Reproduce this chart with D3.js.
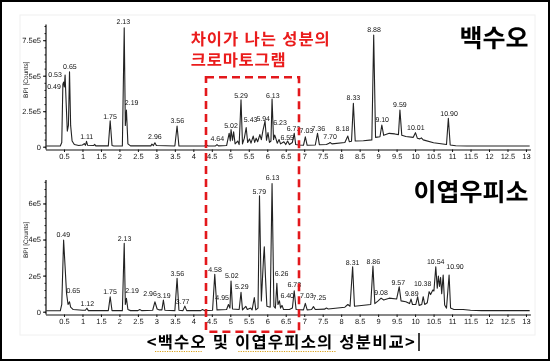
<!DOCTYPE html>
<html lang="ko">
<head>
<meta charset="UTF-8">
<title>백수오 및 이엽우피소의 성분비교</title>
<script src="https://d3js.org/d3.v7.min.js"></script>
<style>
  body { margin: 0; background: #fff; }
  svg { display: block; }
  text { text-rendering: geometricPrecision; }
  .tick text { font-family: "Liberation Sans Narrow", "Liberation Sans", sans-serif; font-size: 7.5px; fill: #111; }
  .tick line { stroke: #111; }
  .pk { font-family: "Liberation Sans Narrow", "Liberation Sans", sans-serif; font-size: 7px; fill: #111; text-anchor: middle; }
</style>
</head>
<body>
<script>
// retention time axis (min)
var xTicks = [0.5,1,1.5,2,2.5,3,3.5,4,4.5,5,5.5,6,6.5,7,7.5,8,8.5,9,9.5,10,10.5,11,11.5,12,12.5,13];
var xTickLabels = ["0.5","1","1.5","2","2.5","3","3.5","4","4.5","5","5.5","6","6.5","7","7.5","8","8.5","9","9.5","10","10.5","11","11.5","12","12.5","13"];

// BPI counts, in thousands
var topYTicks = [0, 250, 500, 750];
var topYLabels = ["0", "2.5e5", "5e5", "7.5e5"];
var botYTicks = [0, 200, 400, 600];
var botYLabels = ["0", "2e5", "4e5", "6e5"];

// 백수오 trace [rt, kcounts]
var topTrace = [
  [0.02,5],[0.4,5],[0.44,30],[0.47,440],[0.49,455],[0.51,420],[0.53,505],[0.56,300],[0.59,110],[0.62,150],[0.65,528],[0.68,150],
  [0.72,40],[0.78,15],[0.9,8],[1.0,12],[1.05,22],[1.08,10],[1.11,38],[1.14,10],[1.3,8],[1.33,16],[1.36,6],[1.7,6],[1.75,183],
  [1.8,8],[1.85,5],[2.08,5],[2.13,838],[2.16,150],[2.19,258],[2.23,20],[2.3,6],[2.85,6],[2.88,18],[2.92,8],[2.96,28],[3.0,8],
  [3.5,5],[3.56,146],[3.61,5],[4.3,5],[4.35,12],[4.4,5],[4.6,6],[4.64,15],[4.68,6],[4.9,8],[4.97,95],[5.0,40],[5.02,120],
  [5.06,45],[5.09,105],[5.13,20],[5.2,40],[5.24,15],[5.29,330],[5.33,20],[5.38,60],[5.43,135],[5.47,30],[5.52,55],[5.56,25],
  [5.62,75],[5.66,30],[5.7,60],[5.74,35],[5.8,85],[5.84,50],[5.88,110],[5.94,180],[5.98,45],[6.02,100],[6.06,30],[6.1,40],
  [6.13,336],[6.17,50],[6.2,82],[6.23,60],[6.27,25],[6.32,50],[6.36,20],[6.45,35],[6.5,15],[6.55,40],[6.6,15],[6.68,30],
  [6.73,94],[6.77,15],[6.85,12],[6.98,10],[7.03,70],[7.08,10],[7.3,12],[7.36,94],[7.41,14],[7.6,15],[7.66,22],[7.7,30],
  [7.75,20],[8.1,30],[8.18,75],[8.22,35],[8.28,38],[8.33,305],[8.38,40],[8.6,42],[8.83,48],[8.88,786],[8.93,66],[9.05,70],
  [9.1,153],[9.15,80],[9.3,94],[9.45,90],[9.55,85],[9.59,258],[9.64,80],[9.75,72],[9.95,66],[10.01,99],[10.06,60],[10.13,55],
  [10.17,62],[10.22,48],[10.5,28],[10.85,15],[10.9,200],[10.95,12],[11.1,7],[11.4,5],[13.1,5]
];

// 이엽우피소 trace [rt, kcounts]
var botTrace = [
  [0.02,5],[0.4,5],[0.44,40],[0.49,397],[0.53,250],[0.57,100],[0.61,40],[0.65,55],[0.68,25],[0.75,12],[1.0,8],[1.08,8],
  [1.12,19],[1.16,6],[1.7,6],[1.75,83],[1.8,6],[2.08,6],[2.13,379],[2.16,40],[2.19,74],[2.23,12],[2.3,6],[2.5,6],[2.55,12],
  [2.6,6],[2.9,8],[2.96,55],[3.02,15],[3.08,10],[3.15,10],[3.19,65],[3.23,8],[3.5,6],[3.56,185],[3.61,8],[3.72,6],[3.77,31],
  [3.82,6],[4.2,6],[4.25,12],[4.3,6],[4.52,8],[4.58,207],[4.64,10],[4.9,12],[4.95,40],[4.99,20],[5.02,170],[5.06,15],[5.24,12],
  [5.29,107],[5.33,10],[5.42,30],[5.46,12],[5.55,20],[5.59,10],[5.65,78],[5.69,10],[5.75,20],[5.79,643],[5.84,60],[5.9,300],
  [5.92,360],[5.95,200],[5.99,30],[6.08,25],[6.13,711],[6.18,30],[6.22,20],[6.26,157],[6.29,40],[6.33,60],[6.36,20],[6.4,35],
  [6.44,12],[6.6,12],[6.68,20],[6.73,116],[6.78,12],[6.98,10],[7.03,46],[7.08,10],[7.2,12],[7.25,28],[7.3,12],[7.55,14],
  [7.6,20],[7.65,15],[8.1,25],[8.18,40],[8.24,30],[8.31,249],[8.36,30],[8.8,40],[8.86,253],[8.91,45],[9.0,60],[9.08,75],
  [9.15,65],[9.3,75],[9.5,70],[9.57,138],[9.62,60],[9.75,55],[9.85,45],[9.89,70],[9.93,40],[10.02,40],[10.07,83],[10.11,35],
  [10.18,40],[10.22,83],[10.26,40],[10.33,50],[10.38,111],[10.42,95],[10.48,120],[10.51,115],[10.56,249],[10.6,130],[10.63,198],
  [10.66,140],[10.69,190],[10.72,100],[10.76,203],[10.8,37],[10.85,20],[10.92,203],[10.96,20],[11.05,12],[11.3,12],[11.5,8],
  [11.8,6],[13.1,6]
];

// peak annotations [label, rt, kcounts]
var topPeakLabels = [
  ["0.49",0.23,423],["0.53",0.26,511],["0.65",0.66,563],["1.11",1.115,75],["1.75",1.745,211],["2.13",2.105,885],["2.19",2.33,313],
  ["2.96",2.96,68],["3.56",3.566,183],["4.64",4.65,54],["5.02",5.02,146],["5.29",5.29,359],["5.43",5.55,188],["5.94",5.89,200],
  ["6.13",6.15,359],["6.23",6.345,169],["6.55",6.54,66],["6.73",6.71,130],["7.03",7.06,113],["7.36",7.38,130],["7.70",7.70,73],
  ["8.18",8.04,127],["8.33",8.33,345],["8.88",8.89,822],["9.10",9.11,188],["9.59",9.59,294],["10.01",10.02,134],["10.90",10.92,235]
];
var botPeakLabels = [
  ["0.49",0.48,425],["0.65",0.75,116],["1.12",1.13,43],["1.75",1.745,111],["2.13",2.14,403],["2.19",2.34,116],["2.96",2.83,102],
  ["3.19",3.2,89],["3.56",3.566,209],["3.77",3.71,55],["4.58",4.586,231],["4.95",4.78,80],["5.02",5.04,203],["5.29",5.31,142],
  ["5.79",5.785,665],["6.13",6.147,742],["6.26",6.39,209],["6.40",6.54,89],["6.73",6.73,152],["7.03",7.07,87],["7.25",7.41,80],
  ["8.31",8.31,271],["8.86",8.87,277],["9.08",9.08,105],["9.57",9.545,163],["9.89",9.91,98],["10.38",10.205,157],
  ["10.54",10.557,277],["10.90",11.08,249]
];

var W = 550, H = 363;
var svg = d3.select("body").append("svg").attr("width", W).attr("height", H);

svg.append("rect").attr("x", 0).attr("y", 0).attr("width", W).attr("height", H).attr("fill", "#fff");
svg.append("rect").attr("x", 20).attr("y", 15).attr("width", 515).attr("height", 320)
  .attr("fill", "none").attr("stroke", "#f0f0f0");

var x = d3.scaleLinear().domain([0, 13.12]).range([45.5, 530.4]);

function drawPanel(trace, yTicks, yLabels, peaks, yMax, y0px, y1px, axisY) {
  var y = d3.scaleLinear().domain([0, yMax]).range([y0px, y1px]);
  var g = svg.append("g").attr("opacity", 0.999);

  // minor ticks on y
  var step = yTicks[1] / 5;
  g.append("g").attr("transform", "translate(46,0)")
    .call(d3.axisLeft(y).tickValues(d3.range(0, yMax, step)).tickSize(1.5).tickFormat(""))
    .call(function(a) { a.select(".domain").remove(); });

  g.append("g").attr("transform", "translate(46,0)")
    .call(d3.axisLeft(y).tickValues(yTicks).tickFormat(function(d, i) { return yLabels[i]; }).tickSize(3).tickPadding(2))
    .call(function(a) { a.select(".domain").remove(); });

  g.append("line").attr("x1", 46).attr("x2", 46).attr("y1", y1px).attr("y2", axisY)
    .attr("stroke", "#111").attr("stroke-width", 1.2);

  g.append("g").attr("transform", "translate(0," + axisY + ")")
    .call(d3.axisBottom(x).tickValues(xTicks).tickFormat(function(d, i) { return xTickLabels[i]; }).tickSize(2.5).tickSizeOuter(0).tickPadding(2))
    .call(function(a) { a.select(".domain").attr("stroke", "#111").attr("stroke-width", 1.2); });

  var line = d3.line().x(function(d) { return x(d[0]); }).y(function(d) { return y(d[1]); });

  g.append("path").datum(trace).attr("d", line).attr("fill", "none")
    .attr("stroke", "#222").attr("stroke-width", 1.1).attr("stroke-linejoin", "round");

  g.selectAll("text.pk").data(peaks).enter().append("text")
    .attr("class", "pk")
    .attr("x", function(d) { return x(d[1]); })
    .attr("y", function(d) { return y(d[2]); })
    .attr("dy", "0.35em")
    .text(function(d) { return d[0]; });

  g.append("text")
    .attr("transform", "translate(26," + ((y0px + y1px) / 2 - 6) + ") rotate(-90)")
    .attr("text-anchor", "middle").attr("dy", "0.35em")
    .style("font-family", "Liberation Sans Narrow, Liberation Sans, sans-serif")
    .style("font-size", "6.5px").attr("fill", "#222")
    .text("BPI [Counts]");
}

drawPanel(topTrace, topYTicks, topYLabels, topPeakLabels, 860, 146.7, 24.6, 149.5);
drawPanel(botTrace, botYTicks, botYLabels, botPeakLabels, 730, 311.7, 180, 314.5);

// titles
var kr = "'Noto Sans CJK KR', 'Noto Sans', sans-serif";
svg.append("text").attr("x", 528.5).attr("y", 38).attr("dy", "0.35em").attr("text-anchor", "end")
  .style("font-family", kr).style("font-size", "25px").style("font-weight", "bold").attr("fill", "#000")
  .text("백수오");
svg.append("text").attr("x", 528.5).attr("y", 192.5).attr("dy", "0.35em").attr("text-anchor", "end")
  .style("font-family", kr).style("font-size", "25px").style("font-weight", "bold").attr("fill", "#000")
  .text("이엽우피소");

// highlighted region
svg.append("rect").attr("x", 206).attr("y", 77.3).attr("width", 93).attr("height", 254.4)
  .attr("fill", "none").attr("stroke", "#e3181c").attr("stroke-width", 2.6)
  .attr("stroke-dasharray", "8,5");

svg.append("text").attr("x", 190.7).attr("y", 39).attr("dy", "0.35em")
  .attr("textLength", 139).attr("lengthAdjust", "spacing")
  .style("font-family", kr).style("font-size", "16.5px").style("font-weight", "bold").attr("fill", "#ea1c1c")
  .text("차이가 나는 성분의");
svg.append("text").attr("x", 190.7).attr("y", 60).attr("dy", "0.35em")
  .attr("textLength", 95).attr("lengthAdjust", "spacing")
  .style("font-family", kr).style("font-size", "16.5px").style("font-weight", "bold").attr("fill", "#ea1c1c")
  .text("크로마토그램");

// caption
svg.append("text").attr("x", 146.7).attr("y", 342.3).attr("dy", "0.35em")
  .attr("textLength", 268).attr("lengthAdjust", "spacing")
  .style("font-family", kr).style("font-size", "16.5px").style("font-weight", "bold").attr("fill", "#000")
  .text("<백수오 및 이엽우피소의 성분비교>");
svg.append("line").attr("x1", 419).attr("x2", 419).attr("y1", 333).attr("y2", 351)
  .attr("stroke", "#000").attr("stroke-width", 1.5);
[[155, 201.7], [238.3, 336.7]].forEach(function(s) {
  svg.append("line").attr("x1", s[0]).attr("x2", s[1]).attr("y1", 351.5).attr("y2", 351.5)
    .attr("stroke", "#d9a21c").attr("stroke-width", 1.2).attr("stroke-dasharray", "1.2,1.2");
});

// frame
svg.append("rect").attr("x", 1).attr("y", 1).attr("width", 548).attr("height", 359)
  .attr("fill", "none").attr("stroke", "#000").attr("stroke-width", 2);
</script>
</body>
</html>
